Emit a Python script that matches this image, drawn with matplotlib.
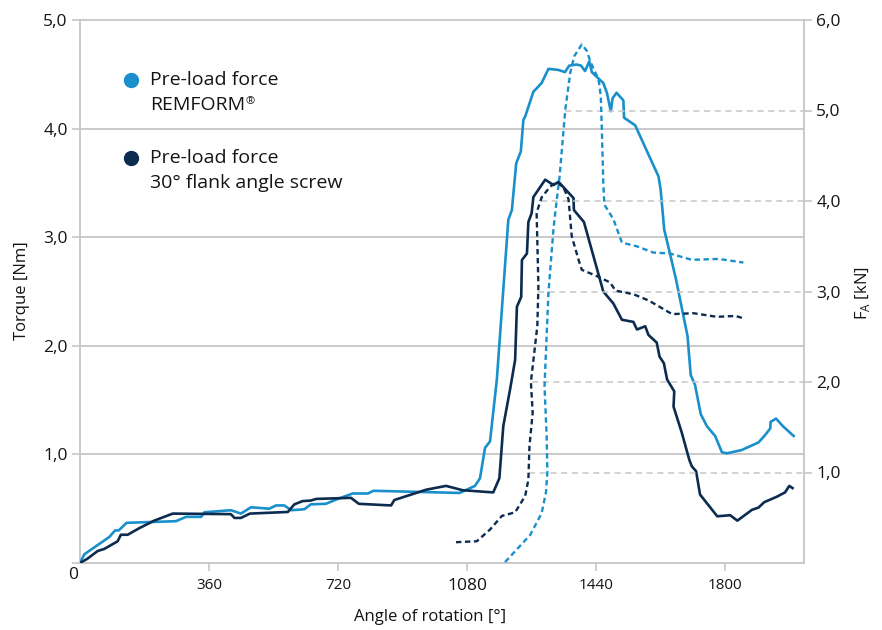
import numpy as np
import matplotlib.pyplot as plt

plt.rcParams['font.family'] = ['Open Sans', 'DejaVu Sans']

# Torque [Nm] over angle of rotation [deg]
remform_angle = [0, 12, 82, 98, 108, 130, 268, 296, 338, 347, 421, 449, 477, 528, 547, 570, 589, 626, 644,
                 686, 719, 761, 803, 819, 1059, 1102, 1116, 1130, 1144, 1163, 1195, 1205, 1217, 1230, 1237,
                 1242, 1265, 1274, 1288, 1307, 1335, 1353, 1365, 1386, 1398, 1409, 1421, 1428, 1447, 1460,
                 1470, 1481, 1486, 1497, 1516, 1518, 1549, 1614, 1620, 1630, 1646, 1663, 1695, 1704, 1716,
                 1732, 1749, 1772, 1791, 1805, 1846, 1893, 1912, 1926, 1927, 1942, 1961, 1991]
remform_torque = [0.0, 0.08, 0.24, 0.30, 0.30, 0.37, 0.385, 0.425, 0.425, 0.467, 0.486, 0.455, 0.513, 0.50,
                  0.53, 0.53, 0.486, 0.495, 0.54, 0.545, 0.59, 0.64, 0.64, 0.665, 0.645, 0.71, 0.78, 1.06,
                  1.12, 1.69, 3.16, 3.25, 3.68, 3.79, 4.08, 4.11, 4.34, 4.37, 4.42, 4.55, 4.54, 4.52, 4.58,
                  4.59, 4.58, 4.53, 4.62, 4.52, 4.46, 4.42, 4.33, 4.16, 4.28, 4.33, 4.26, 4.10, 4.03, 3.56,
                  3.44, 3.07, 2.85, 2.61, 2.09, 1.73, 1.64, 1.37, 1.26, 1.17, 1.02, 1.01, 1.04, 1.11, 1.18,
                  1.24, 1.30, 1.33, 1.26, 1.17]

screw_angle = [0, 21, 49, 68, 105, 114, 133, 165, 207, 259, 421, 431, 449, 474, 580, 598, 621, 644, 659,
               756, 778, 868, 877, 966, 1021, 1068, 1153, 1170, 1181, 1200, 1214, 1219, 1231, 1233, 1247,
               1251, 1260, 1265, 1298, 1321, 1335, 1377, 1378, 1406, 1460, 1488, 1512, 1544, 1554, 1577,
               1586, 1609, 1617, 1629, 1638, 1658, 1656, 1679, 1700, 1707, 1719, 1730, 1778, 1814, 1834,
               1875, 1893, 1909, 1944, 1967, 1979, 1988]
screw_torque = [0.0, 0.04, 0.11, 0.13, 0.20, 0.26, 0.26, 0.32, 0.39, 0.455, 0.45, 0.415, 0.415, 0.455, 0.47,
                0.54, 0.57, 0.575, 0.59, 0.60, 0.545, 0.53, 0.58, 0.675, 0.71, 0.67, 0.65, 0.78, 1.26, 1.60,
                1.87, 2.36, 2.45, 2.79, 2.85, 3.14, 3.22, 3.37, 3.53, 3.48, 3.51, 3.36, 3.25, 3.14, 2.50,
                2.39, 2.24, 2.22, 2.15, 2.18, 2.10, 2.03, 1.90, 1.84, 1.69, 1.58, 1.44, 1.20, 0.95, 0.89,
                0.845, 0.63, 0.43, 0.44, 0.39, 0.49, 0.51, 0.56, 0.61, 0.65, 0.71, 0.69]

# Pre-load force F_A [kN] over angle of rotation [deg]
remform_fa_angle = [1186, 1256, 1288, 1300, 1304, 1302, 1296, 1307, 1321, 1328, 1338, 1354, 1368, 1379,
                    1400, 1414, 1425, 1447, 1453, 1456, 1460, 1463, 1488, 1512, 1553, 1600, 1646, 1707,
                    1782, 1851]
remform_fa = [0.01, 0.31, 0.55, 0.78, 1.00, 1.40, 1.95, 2.99, 3.69, 3.94, 4.27, 5.01, 5.42, 5.60, 5.73,
              5.66, 5.53, 5.34, 5.16, 4.79, 4.20, 3.96, 3.80, 3.54, 3.50, 3.43, 3.42, 3.35, 3.36, 3.32]

screw_fa_angle = [1049, 1107, 1144, 1177, 1214, 1242, 1251, 1254, 1263, 1258, 1276, 1279, 1274, 1288,
                  1312, 1330, 1349, 1363, 1372, 1391, 1400, 1442, 1479, 1494, 1544, 1587, 1652, 1712,
                  1777, 1829, 1854]
screw_fa = [0.23, 0.24, 0.37, 0.52, 0.56, 0.74, 0.92, 1.29, 1.66, 2.00, 2.62, 3.06, 3.87, 4.04, 4.16,
            4.21, 4.15, 4.02, 3.61, 3.35, 3.24, 3.17, 3.10, 3.01, 2.97, 2.90, 2.75, 2.76, 2.72, 2.73, 2.70]

angle_ticks = [360, 720, 1080, 1440, 1800]
torque_ticks = [0, 1, 2, 3, 4, 5]
torque_labels = ['', '1,0', '2,0', '3,0', '4,0', '5,0']
fa_ticks = [1, 2, 3, 4, 5, 6]
fa_labels = ['1,0', '2,0', '3,0', '4,0', '5,0', '6,0']
# dashed F_A guides start where the first pre-load curve reaches the level
fa_guide_levels = [1, 2, 3, 4, 5]
fa_guide_from = [1252, 1260, 1279, 1286, 1354]

LIGHT = '#1990cb'
DARK = '#0b2c4f'
GRID = '#c6c6c6'
TXT = '#141414'
X_MAX = 2020

fig = plt.figure(figsize=(8.82, 6.3), dpi=100)
ax = fig.add_axes([80 / 882, 67 / 630, 724 / 882, 543 / 630])
ax.set_xlim(0, X_MAX)
ax.set_ylim(0, 5)
ax2 = ax.twinx()
ax2.set_ylim(0, 6)

for t in torque_ticks[1:]:
    ax.axhline(t, color=GRID, lw=1.3, zorder=0, clip_on=False)
ax2.hlines(fa_guide_levels, fa_guide_from, X_MAX, colors=GRID, linestyles=(0, (4, 3)), lw=1.1, zorder=0)

for a in (ax, ax2):
    for s in a.spines.values():
        s.set_visible(False)
ax.spines['left'].set_visible(True)
ax.spines['bottom'].set_visible(True)
ax2.spines['right'].set_visible(True)
for s in (ax.spines['left'], ax.spines['bottom'], ax2.spines['right']):
    s.set_color(GRID)
    s.set_linewidth(1.3)

ax.plot(remform_angle, remform_torque, color=LIGHT, lw=1.9, zorder=3)
ax.plot(screw_angle, screw_torque, color=DARK, lw=1.9, zorder=3)
ax2.plot(remform_fa_angle, remform_fa, color=LIGHT, lw=1.7, ls=(0, (2.3, 1.5)), zorder=3)
ax2.plot(screw_fa_angle, screw_fa, color=DARK, lw=1.7, ls=(0, (2.3, 1.5)), zorder=3)

ax.set_xticks(angle_ticks)
ax.set_xticklabels([str(a) for a in angle_ticks])
for lab in ax.get_xticklabels():
    lab.set_fontsize(12.5 if lab.get_text() == '1080' else 11)
ax.set_yticks(torque_ticks)
ax.set_yticklabels(torque_labels)
ax.tick_params(axis='y', length=5.8, width=1.2, color=GRID, pad=3, labelsize=12.5, labelcolor=TXT)
ax.tick_params(axis='x', length=5.8, width=1.2, color=GRID, pad=5, labelcolor=TXT)
ax2.set_yticks(fa_ticks)
ax2.set_yticklabels(fa_labels)
ax2.tick_params(axis='y', length=5.8, width=1.2, color=GRID, pad=3, labelsize=12.5, labelcolor=TXT)

ax.annotate('0', xy=(0, 0), xycoords='axes fraction', xytext=(-1.5, -8.5), textcoords='offset points',
            ha='right', va='center', fontsize=12.5, color=TXT)

fig.text(22 / 882, 1 - 291 / 630, 'Torque [Nm]', rotation=90, ha='center', va='center', fontsize=12,
         color=TXT)
fig.text(430 / 882, 1 - 617 / 630, 'Angle of rotation [°]', ha='center', va='center', fontsize=12,
         color=TXT)
fig.text(863 / 882, 1 - 293 / 630, r'F$_\mathregular{A}$ [kN]', rotation=90, ha='center', va='center',
         fontsize=12, color=TXT)

# legend drawn by hand
ax.plot([0.0704], [0.889], 'o', ms=10, color=LIGHT, transform=ax.transAxes, clip_on=False)
ax.plot([0.0704], [0.746], 'o', ms=10, color=DARK, transform=ax.transAxes, clip_on=False)
ax.text(0.0967, 0.889, 'Pre-load force', transform=ax.transAxes, va='center', fontsize=14, color=TXT)
rem = ax.text(0.0967, 0.843, 'REMFORM', transform=ax.transAxes, va='center', fontsize=14, color=TXT)
ax.annotate('®', xy=(1.0, 1.02), xycoords=rem, xytext=(0.5, 0), textcoords='offset points',
            ha='left', va='top', fontsize=8, color=TXT)
ax.text(0.0967, 0.746, 'Pre-load force', transform=ax.transAxes, va='center', fontsize=14, color=TXT)
ax.text(0.0967, 0.700, '30° flank angle screw', transform=ax.transAxes, va='center', fontsize=14,
        color=TXT)

plt.savefig('out.png', dpi=100)
